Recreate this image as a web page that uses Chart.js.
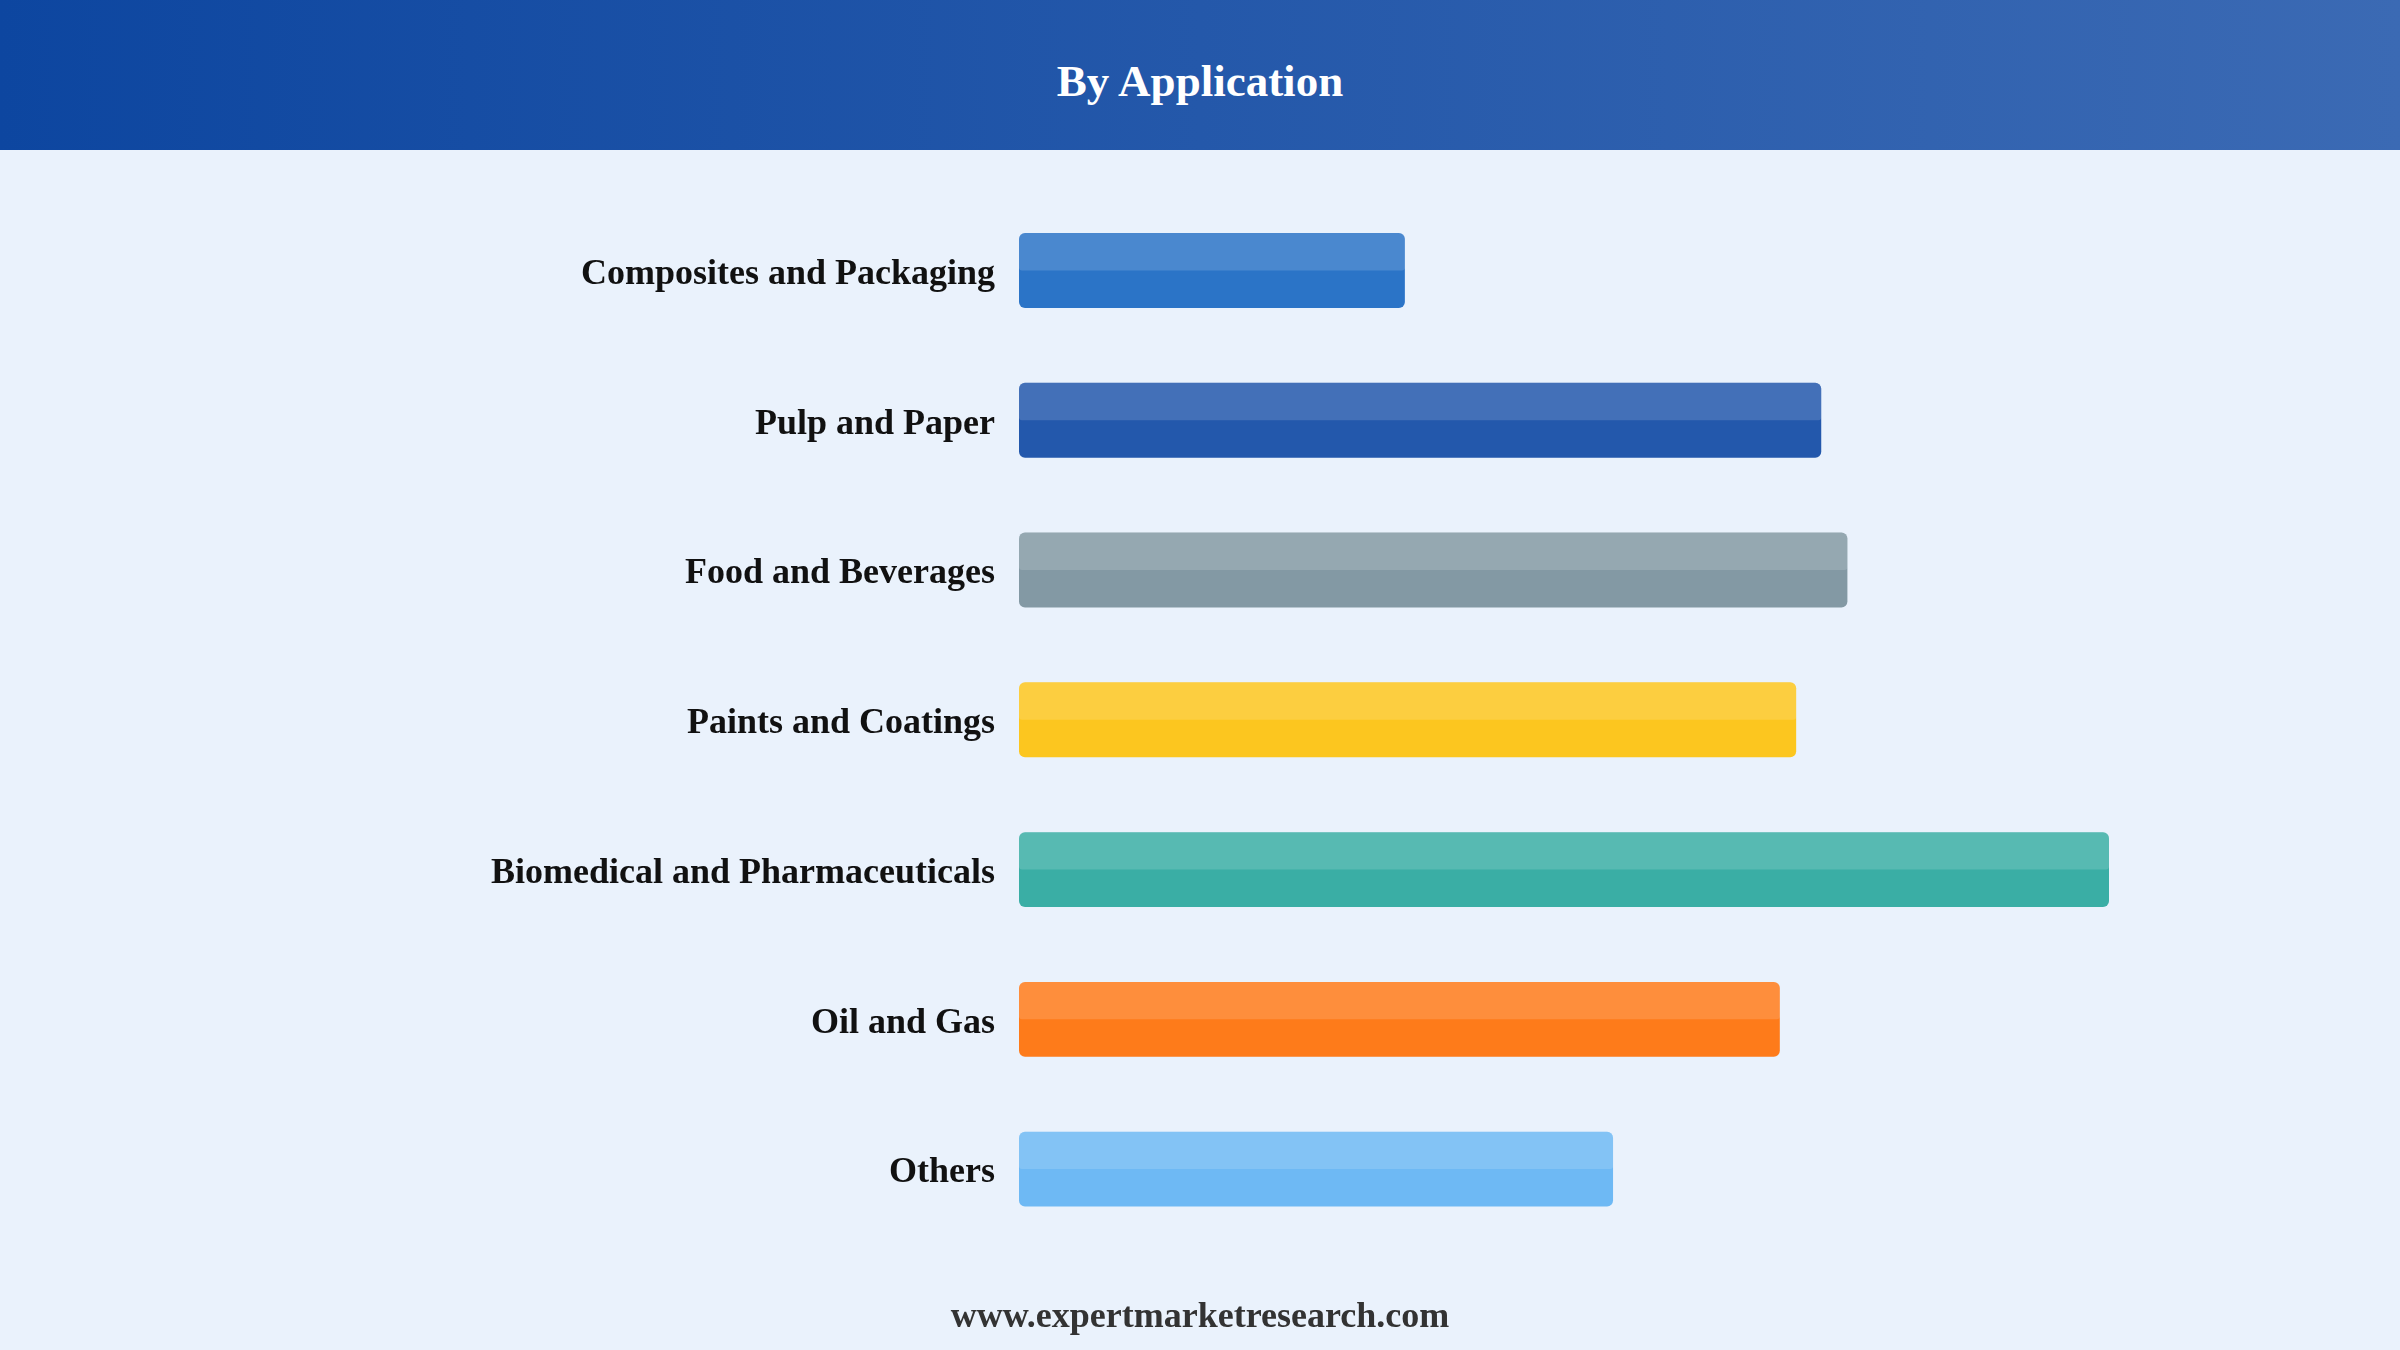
<!DOCTYPE html>
<html>
<head>
<meta charset="utf-8">
<script src="https://cdn.jsdelivr.net/npm/chart.js@4"></script>
<style>
  html, body { margin: 0; padding: 0; width: 2400px; height: 1350px; overflow: hidden; background: #EAF2FC; }
  #header {
    position: absolute; left: 0; top: 0; width: 2400px; height: 150px;
    background: linear-gradient(to right, #0D46A0, #3B6AB4);
    color: #fff; font-family: "Liberation Serif", "Times New Roman", serif; font-weight: bold;
    font-size: 45px; text-align: center; line-height: 163px;
  }
  #wrap { position: absolute; left: 0; top: 150px; width: 2400px; height: 1200px; }
  #footer {
    position: absolute; left: 0; top: 1294px; width: 2400px; text-align: center;
    font-family: "Liberation Serif", "Times New Roman", serif; font-weight: bold;
    font-size: 36px; color: #333;
  }
</style>
</head>
<body>
<div id="header">By Application</div>
<div id="wrap"><canvas id="appChart"></canvas></div>
<div id="footer">www.expertmarketresearch.com</div>
<script>
// Chart values
var categories = ['Composites and Packaging', 'Pulp and Paper', 'Food and Beverages',
  'Paints and Coatings', 'Biomedical and Pharmaceuticals', 'Oil and Gas', 'Others'];
var values = [35.4, 73.6, 76.0, 71.3, 100, 69.8, 54.5];
var barColors = ['#2B74C7', '#2358AC', '#8399A4', '#FCC61F', '#3AAEA5', '#FE7B1A', '#6EB9F4'];

// lighter top half on every bar
var shinePlugin = {
  id: 'shine',
  afterDatasetsDraw: function(chart) {
    var ctx = chart.ctx;
    chart.getDatasetMeta(0).data.forEach(function(bar) {
      var left = Math.min(bar.base, bar.x);
      var w = Math.abs(bar.x - bar.base);
      var top = bar.y - bar.height / 2;
      var h = bar.height / 2;
      ctx.save();
      ctx.fillStyle = 'rgba(255,255,255,0.15)';
      ctx.beginPath();
      ctx.roundRect(left, top, w, h, [6, 6, 3, 3]);
      ctx.fill();
      ctx.restore();
    });
  }
};

var ctx = document.getElementById('appChart').getContext('2d');
var appChart = new Chart(ctx, {
  type: 'bar',
  data: {
    labels: categories,
    datasets: [{
      data: values,
      backgroundColor: barColors,
      borderRadius: 6,
      borderSkipped: false,
      barPercentage: 1,
      categoryPercentage: 0.5
    }]
  },
  options: {
    indexAxis: 'y',
    responsive: true,
    maintainAspectRatio: false,
    animation: false,
    layout: { padding: { left: 0, right: 291, top: 44, bottom: 106 } },
    plugins: { legend: { display: false }, tooltip: { enabled: false } },
    scales: {
      x: { display: false, min: 0, max: 100 },
      y: {
        grid: { display: false, drawTicks: false },
        border: { display: false },
        afterFit: function(scale) { scale.width = 1019; },
        ticks: {
          padding: 24,
          labelOffset: 4,
          color: '#111',
          font: { family: '"Liberation Serif", "Times New Roman", serif', weight: 'bold', size: 36 }
        }
      }
    }
  },
  plugins: [shinePlugin]
});
</script>
</body>
</html>
